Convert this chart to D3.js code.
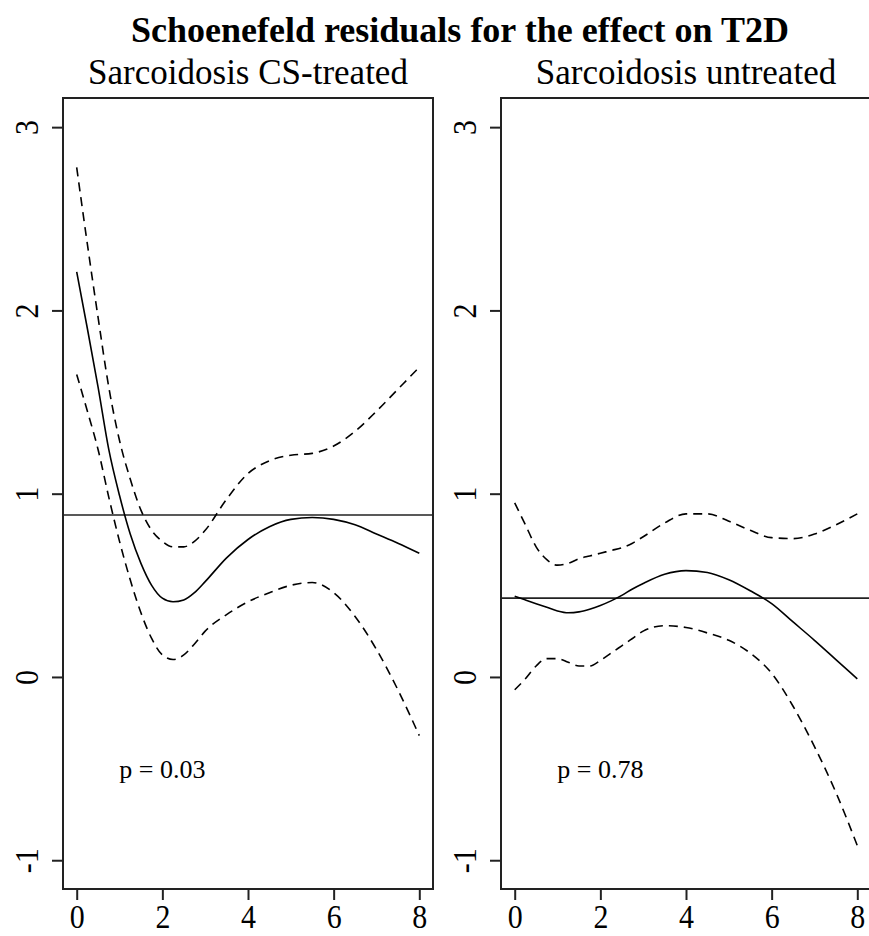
<!DOCTYPE html>
<html>
<head>
<meta charset="utf-8">
<script src="https://cdn.jsdelivr.net/npm/d3@7"></script>
<style>
  body { margin: 0; background: #fff; }
  svg text { font-family: "Liberation Serif", "Times New Roman", serif; fill: #000; }
</style>
</head>
<body>
<div id="chart"></div>
<script>
// time grid (years) shared by all curves
let times = [0, 0.25, 0.5, 0.75, 1, 1.25, 1.5, 1.75, 2, 2.25, 2.5, 2.75, 3, 3.5, 4, 4.5, 5, 5.5, 6, 6.5, 7, 7.5, 8]

// CS-treated panel
let treatedFit   = [2.21, 1.90, 1.58, 1.24, 0.99, 0.78, 0.62, 0.50, 0.43, 0.41, 0.42, 0.46, 0.52, 0.65, 0.75, 0.82, 0.86, 0.87, 0.86, 0.83, 0.78, 0.73, 0.675]
let treatedUpper = [2.78, 2.36, 1.96, 1.58, 1.29, 1.08, 0.91, 0.80, 0.74, 0.71, 0.71, 0.74, 0.80, 0.97, 1.11, 1.18, 1.21, 1.22, 1.26, 1.34, 1.45, 1.57, 1.69]
let treatedLower = [1.65, 1.45, 1.24, 0.98, 0.74, 0.53, 0.35, 0.21, 0.12, 0.095, 0.12, 0.18, 0.25, 0.34, 0.41, 0.46, 0.50, 0.515, 0.46, 0.33, 0.15, -0.07, -0.32]
let treatedCoef = 0.884

// untreated panel
let untreatedFit   = [0.44, 0.42, 0.40, 0.38, 0.36, 0.35, 0.355, 0.37, 0.39, 0.415, 0.445, 0.48, 0.51, 0.56, 0.58, 0.57, 0.53, 0.47, 0.40, 0.30, 0.20, 0.095, -0.01]
let untreatedUpper = [0.95, 0.83, 0.71, 0.64, 0.61, 0.62, 0.645, 0.66, 0.675, 0.69, 0.705, 0.73, 0.765, 0.84, 0.89, 0.89, 0.85, 0.80, 0.76, 0.755, 0.78, 0.83, 0.89]
let untreatedLower = [-0.07, -0.01, 0.06, 0.10, 0.10, 0.08, 0.06, 0.06, 0.09, 0.13, 0.17, 0.21, 0.25, 0.28, 0.27, 0.24, 0.20, 0.13, 0.02, -0.16, -0.38, -0.63, -0.92]
let untreatedCoef = 0.43

let xTicks = [0, 2, 4, 6, 8]
let yTicks = [-1, 0, 1, 2, 3]
let pLabels = ["p = 0.03", "p = 0.78"]
let panelTitles = ["Sarcoidosis CS-treated", "Sarcoidosis untreated"]
let mainTitle = "Schoenefeld residuals for the effect on T2D"

const width = 869, height = 936
const serif = '"Liberation Serif", "Times New Roman", serif'

let svg = d3.select('#chart')
  .append('svg')
    .attr('width', width)
    .attr('height', height)

svg.append('text')
  .attr('x', 460)
  .attr('y', 42)
  .attr('text-anchor', 'middle')
  .style('font-family', serif)
  .style('font-weight', 'bold')
  .style('font-size', '36px')
  .text(mainTitle)

let y = d3.scaleLinear().domain([-1.157, 3.159]).range([889, 98])

let panels = [
  { left: 63, fit: treatedFit, upper: treatedUpper, lower: treatedLower, coef: treatedCoef },
  { left: 501, fit: untreatedFit, upper: untreatedUpper, lower: untreatedLower, coef: untreatedCoef }
]

panels.forEach(function(p, i) {
  let x = d3.scaleLinear().domain([-0.32, 8.32]).range([p.left, p.left + 370])

  let g = svg.append('g')

  svg.append('text')
    .attr('x', p.left + 185)
    .attr('y', 84)
    .attr('text-anchor', 'middle')
    .style('font-family', serif)
    .style('font-size', '35px')
    .text(panelTitles[i])

  // horizontal line at the overall coefficient
  g.append('line')
    .attr('x1', p.left).attr('x2', p.left + 370)
    .attr('y1', y(p.coef)).attr('y2', y(p.coef))
    .attr('stroke', '#222')
    .attr('stroke-width', 1.6)

  let line = d3.line()
    .x((d, k) => x(times[k]))
    .y(d => y(d))
    .curve(d3.curveMonotoneX)

  g.append('path')
    .attr('d', line(p.fit))
    .attr('fill', 'none')
    .attr('stroke', '#000')
    .attr('stroke-width', 1.6)

  ;[p.upper, p.lower].forEach(function(band) {
    g.append('path')
      .attr('d', line(band))
      .attr('fill', 'none')
      .attr('stroke', '#000')
      .attr('stroke-width', 1.6)
      .attr('stroke-dasharray', '9,6')
  })

  g.append('text')
    .attr('x', x(2))
    .attr('y', y(-0.5) + 9)
    .attr('text-anchor', 'middle')
    .style('font-family', serif)
    .style('font-size', '26px')
    .text(pLabels[i])

  // box
  g.append('rect')
    .attr('x', p.left).attr('y', 98)
    .attr('width', 370).attr('height', 791)
    .attr('fill', 'none')
    .attr('stroke', '#222')
    .attr('stroke-width', 2)

  let xAxis = svg.append('g')
    .attr('transform', 'translate(0,889)')
    .call(d3.axisBottom(x).tickValues(xTicks).tickSize(11).tickSizeOuter(0).tickPadding(4))
  xAxis.attr('font-family', null).attr('font-size', null)
  xAxis.select('.domain').remove()
  xAxis.selectAll('line').attr('stroke', '#222').attr('stroke-width', 2)
  xAxis.selectAll('text')
    .style('font-family', serif)
    .style('font-size', '34px')
    .attr('fill', '#000')
    .attr('transform', 'scale(0.88,1)')

  let yAxis = svg.append('g')
    .attr('transform', 'translate(' + p.left + ',0)')
    .call(d3.axisLeft(y).tickValues(yTicks).tickSize(11).tickSizeOuter(0).tickFormat(d => String(d)))
  yAxis.attr('font-family', null).attr('font-size', null)
  yAxis.select('.domain').remove()
  yAxis.selectAll('line').attr('stroke', '#222').attr('stroke-width', 2)
  yAxis.selectAll('text')
    .style('font-family', serif)
    .style('font-size', '34px')
    .attr('fill', '#000')
    .attr('x', null).attr('dy', null).attr('y', 0)
    .attr('text-anchor', 'middle')
    .attr('transform', 'translate(-25,0) rotate(-90) scale(0.88,1)')
})
</script>
</body>
</html>
